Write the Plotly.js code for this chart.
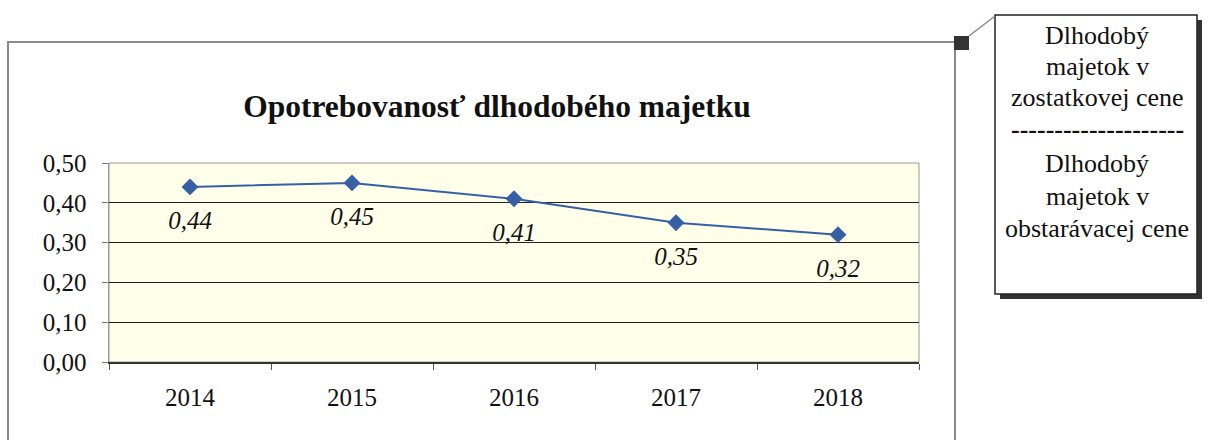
<!DOCTYPE html>
<html>
<head>
<meta charset="utf-8">
<script src="https://cdn.plot.ly/plotly-3.0.1.min.js"></script>
<style>html,body{margin:0;padding:0;background:#fff;}#chart{width:1208px;height:440px;}</style>
</head>
<body>
<div id="chart"></div>
<script>
const years = ['2014', '2015', '2016', '2017', '2018'];
const values = [0.44, 0.45, 0.41, 0.35, 0.32];
const valueLabels = ['0,44', '0,45', '0,41', '0,35', '0,32'];
const yTicks = [0, 0.1, 0.2, 0.3, 0.4, 0.5];
const chartTitle = 'Opotrebovanosť dlhodobého majetku';
const noteLines = ['Dlhodobý', 'majetok v', 'zostatkovej cene', '--------------------', 'Dlhodobý', 'majetok v', 'obstarávacej cene'];

const W = 1208, H = 440;
const px = x => x / W;
const py = y => 1 - y / H;
const serif = 'Liberation Serif';

const lineTrace = {
  x: years, y: values, type: 'scatter', mode: 'lines+markers',
  line: {color: '#3560A6', width: 2},
  marker: {symbol: 'diamond', size: 13, color: '#3560A6'},
  cliponaxis: false, hoverinfo: 'skip'
};
const labelTrace = {
  x: years, y: values, type: 'scatter', mode: 'markers+text',
  text: valueLabels.map(t => '<i>' + t + '</i>'), textposition: 'bottom center',
  textfont: {family: serif, size: 25, color: '#111'},
  marker: {size: 36, color: 'rgba(0,0,0,0)'},
  cliponaxis: false, hoverinfo: 'skip'
};

const shapes = [
  {type: 'rect', xref: 'paper', yref: 'paper', x0: px(8), x1: px(955), y0: py(42), y1: py(460), line: {color: '#8a8a8a', width: 2}},
  {type: 'rect', xref: 'paper', yref: 'paper', x0: px(109), x1: px(919), y0: py(163), y1: py(362), line: {color: '#999', width: 1}, layer: 'below'},
  {type: 'rect', xref: 'paper', yref: 'paper', x0: px(1000), x1: px(1202), y0: py(20), y1: py(299), fillcolor: '#333', line: {width: 0}},
  {type: 'rect', xref: 'paper', yref: 'paper', x0: px(995), x1: px(1197), y0: py(15), y1: py(294), fillcolor: '#fff', line: {color: '#222', width: 1.5}},
  {type: 'rect', xref: 'paper', yref: 'paper', x0: px(954), x1: px(969), y0: py(36), y1: py(50), fillcolor: '#333', line: {width: 0}},
  {type: 'line', xref: 'paper', yref: 'paper', x0: px(969), x1: px(995), y0: py(36), y1: py(16), line: {color: '#888', width: 1.5}}
];

const lineY = [35, 66, 98, 130, 163, 196, 228];
const annotations = noteLines.map((t, i) => ({
  xref: 'paper', yref: 'paper', x: px(1097), y: py(lineY[i]), text: i === 3 ? '<b>' + t + '</b>' : t, showarrow: false,
  xanchor: 'center', yanchor: 'middle',
  font: {family: serif, size: 26, color: '#111'}
}));

const layout = {
  width: W, height: H,
  margin: {l: 0, r: 0, t: 0, b: 0},
  paper_bgcolor: '#fff', plot_bgcolor: '#FFFFEA',
  showlegend: false,
  font: {family: serif, color: '#111'},
  title: {text: '<b>' + chartTitle + '</b>', x: px(497), xref: 'paper', xanchor: 'center', y: py(106), yref: 'paper', yanchor: 'middle', font: {family: serif, size: 31.5, color: '#111'}},
  xaxis: {
    domain: [px(109), px(919)], type: 'category', range: [-0.5, 4.5], automargin: false,
    tickson: 'boundaries', ticks: 'outside', ticklen: 6, tickcolor: '#555',
    showgrid: false, showline: true, linecolor: '#333', linewidth: 1.5,
    tickfont: {family: serif, size: 25, color: '#111'}, ticklabelstandoff: 12
  },
  yaxis: {
    domain: [py(362), py(163)], range: [0, 0.5], automargin: false,
    tickvals: yTicks, tickformat: '.2f', ticks: 'outside', ticklen: 6, tickcolor: '#777',
    showgrid: true, gridcolor: '#222', gridwidth: 1, zeroline: false,
    showline: true, linecolor: '#999', linewidth: 1.5,
    tickfont: {family: serif, size: 25, color: '#111'}, ticklabelstandoff: 10
  },
  separators: ', ',
  shapes: shapes, annotations: annotations
};

Plotly.newPlot('chart', [lineTrace, labelTrace], layout, {staticPlot: true, displayModeBar: false});
</script>
</body>
</html>
